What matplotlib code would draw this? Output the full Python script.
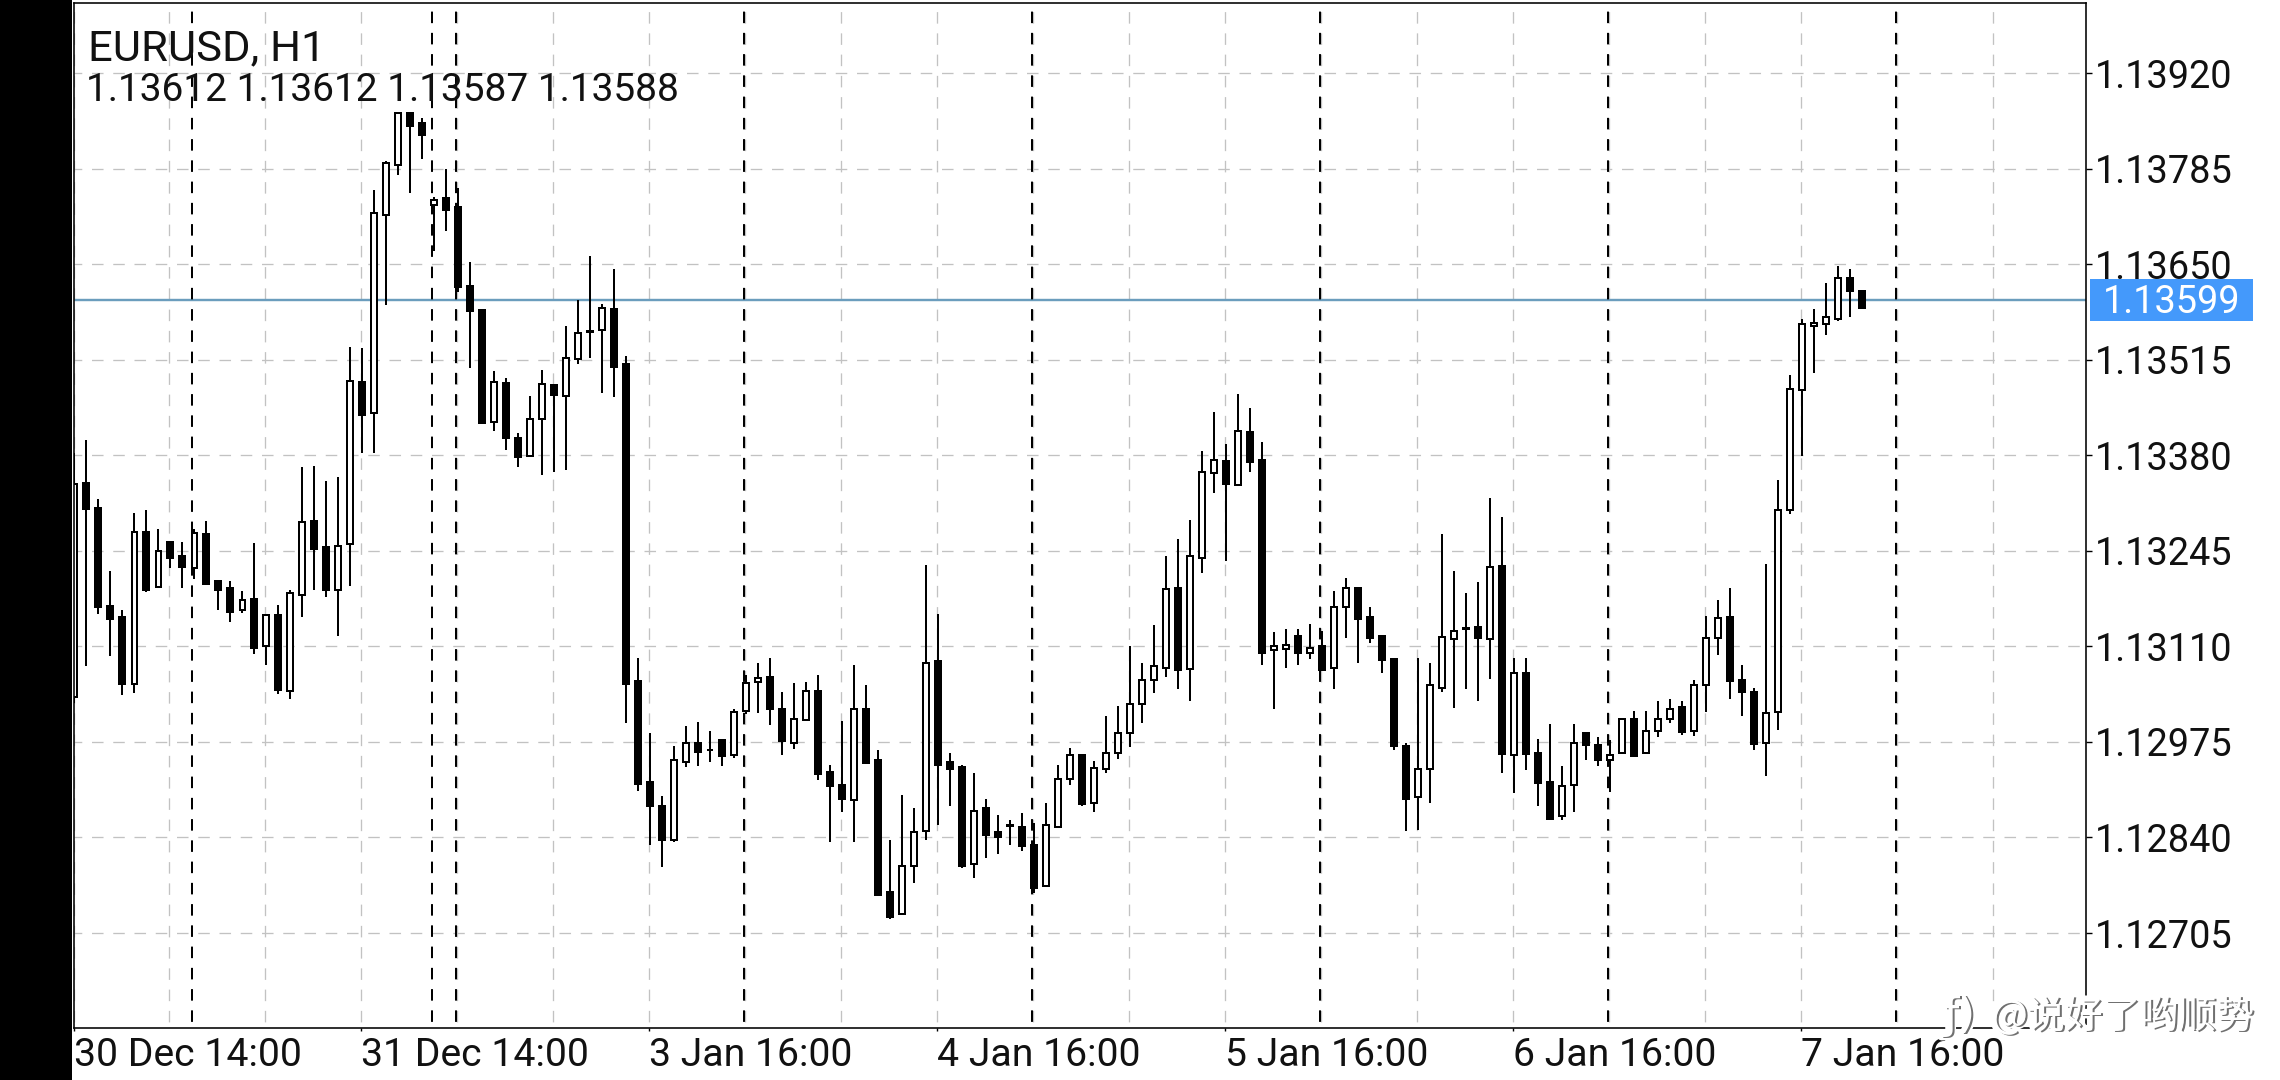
import matplotlib
matplotlib.use("Agg")
import matplotlib.pyplot as plt
from matplotlib.patches import Rectangle
import matplotlib.patheffects as pe

W, H = 2280, 1080
plt.rcParams['font.family'] = ['Roboto', 'DejaVu Sans']
plt.rcParams['lines.scale_dashes'] = False

symbol = "EURUSD, H1"
ohlc_text = "1.13612 1.13612 1.13587 1.13588"
current_price = 1.13599
watermark = "@说好了哟顺势"

opens = [
1.13038,1.13341,1.13306,1.13167,1.13152,1.13057,1.13271,1.13194,1.13258,1.13237,
1.13221,1.13269,1.13202,1.13193,1.13161,1.13177,1.13110,1.13154,1.13047,1.13182,
1.13287,1.13250,1.13189,1.13254,1.13484,1.13439,1.13719,1.13790,1.13863,1.13849,
1.13733,1.13743,1.13731,1.13619,1.13585,1.13427,1.13482,1.13404,1.13379,1.13431,
1.13479,1.13464,1.13516,1.13554,1.13557,1.13586,1.13509,1.13061,1.12918,1.12885,
1.12837,1.12947,1.12973,1.12963,1.12978,1.12957,1.13019,1.13059,1.13067,1.13021,
1.12974,1.13006,1.13047,1.12933,1.12914,1.12893,1.13021,1.12949,1.12763,1.12732,
1.12800,1.12849,1.13089,1.12947,1.12939,1.12802,1.12882,1.12847,1.12856,1.12855,
1.12829,1.12772,1.12855,1.12922,1.12957,1.12889,1.12937,1.12960,1.12988,1.13029,
1.13062,1.13079,1.13192,1.13078,1.13235,1.13355,1.13372,1.13338,1.13413,1.13373,
1.13105,1.13106,1.13125,1.13101,1.13110,1.13079,1.13165,1.13192,1.13152,1.13125,
1.13092,1.12969,1.12897,1.12937,1.13051,1.13121,1.13135,1.13137,1.13121,1.13224,
1.12957,1.13073,1.12959,1.12918,1.12870,1.12914,1.12987,1.12971,1.12949,1.12959,
1.13008,1.12959,1.12990,1.13008,1.13024,1.12990,1.13055,1.13122,1.13152,1.13062,
1.13046,1.12973,1.13017,1.13303,1.13472,1.13562,1.13565,1.13573,1.13630,1.13612]
highs = [
1.13383,1.13402,1.13318,1.13216,1.13162,1.13298,1.13302,1.13276,1.13259,1.13258,
1.13276,1.13287,1.13204,1.13202,1.13188,1.13256,1.13154,1.13169,1.13189,1.13363,
1.13365,1.13344,1.13349,1.13533,1.13531,1.13755,1.13796,1.13864,1.13863,1.13857,
1.13745,1.13785,1.13757,1.13653,1.13585,1.13499,1.13489,1.13411,1.13463,1.13500,
1.13479,1.13562,1.13599,1.13662,1.13594,1.13643,1.13520,1.13093,1.12987,1.12898,
1.12969,1.12997,1.13003,1.12991,1.12978,1.13022,1.13069,1.13087,1.13093,1.13045,
1.13058,1.13059,1.13070,1.12943,1.13004,1.13083,1.13056,1.12963,1.12836,1.12900,
1.12881,1.13225,1.13156,1.12959,1.12942,1.12931,1.12895,1.12872,1.12864,1.12874,
1.12861,1.12888,1.12942,1.12966,1.12957,1.12948,1.13012,1.13026,1.13111,1.13086,
1.13140,1.13237,1.13261,1.13289,1.13386,1.13441,1.13396,1.13466,1.13447,1.13399,
1.13130,1.13135,1.13135,1.13142,1.13132,1.13188,1.13207,1.13192,1.13165,1.13125,
1.13092,1.12974,1.13094,1.13086,1.13269,1.13216,1.13185,1.13201,1.13319,1.13293,
1.13093,1.13094,1.12979,1.13000,1.12941,1.13000,1.12987,1.12982,1.12978,1.13007,
1.13018,1.13018,1.13033,1.13035,1.13033,1.13062,1.13153,1.13176,1.13193,1.13083,
1.13051,1.13227,1.13345,1.13494,1.13572,1.13586,1.13623,1.13648,1.13643,1.13612]
lows = [
1.13030,1.13082,1.13156,1.13097,1.13041,1.13044,1.13187,1.13194,1.13221,1.13193,
1.13205,1.13198,1.13162,1.13145,1.13157,1.13099,1.13083,1.13043,1.13036,1.13152,
1.13189,1.13180,1.13124,1.13195,1.13383,1.13383,1.13592,1.13776,1.13750,1.13799,
1.13668,1.13697,1.13611,1.13503,1.13426,1.13414,1.13388,1.13363,1.13379,1.13352,
1.13356,1.13359,1.13509,1.13518,1.13468,1.13462,1.13002,1.12905,1.12830,1.12798,
1.12834,1.12939,1.12941,1.12947,1.12941,1.12952,1.13015,1.13016,1.12999,1.12957,
1.12965,1.13006,1.12921,1.12834,1.12876,1.12834,1.12945,1.12759,1.12725,1.12732,
1.12776,1.12837,1.12858,1.12885,1.12797,1.12782,1.12811,1.12816,1.12829,1.12821,
1.12761,1.12772,1.12854,1.12914,1.12885,1.12876,1.12931,1.12951,1.12968,1.13002,
1.13044,1.13066,1.13050,1.13033,1.13213,1.13326,1.13230,1.13337,1.13357,1.13083,
1.13022,1.13080,1.13083,1.13092,1.13077,1.13050,1.13122,1.13087,1.13115,1.13073,
1.12963,1.12849,1.12850,1.12888,1.13046,1.13023,1.13050,1.13033,1.13064,1.12931,
1.12903,1.12935,1.12884,1.12866,1.12864,1.12876,1.12949,1.12941,1.12904,1.12959,
1.12955,1.12959,1.12982,1.13002,1.12985,1.12984,1.13017,1.13098,1.13036,1.13011,
1.12964,1.12927,1.12992,1.13297,1.13379,1.13496,1.13550,1.13570,1.13575,1.13587]
closes = [
1.13339,1.13304,1.13166,1.13148,1.13057,1.13272,1.13190,1.13244,1.13235,1.13222,
1.13270,1.13198,1.13189,1.13158,1.13175,1.13108,1.13154,1.13048,1.13185,1.13285,
1.13248,1.13189,1.13252,1.13485,1.13437,1.13722,1.13793,1.13864,1.13845,1.13832,
1.13740,1.13727,1.13618,1.13584,1.13426,1.13483,1.13404,1.13377,1.13431,1.13481,
1.13465,1.13518,1.13552,1.13555,1.13588,1.13505,1.13057,1.12916,1.12885,1.12836,
1.12949,1.12973,1.12961,1.12963,1.12955,1.13017,1.13058,1.13065,1.13021,1.12976,
1.13007,1.13047,1.12930,1.12913,1.12894,1.13021,1.12945,1.12759,1.12728,1.12799,
1.12848,1.13087,1.12943,1.12936,1.12799,1.12878,1.12843,1.12840,1.12857,1.12828,
1.12769,1.12857,1.12922,1.12957,1.12887,1.12938,1.12959,1.12987,1.13028,1.13062,
1.13082,1.13191,1.13076,1.13237,1.13357,1.13373,1.13339,1.13414,1.13371,1.13101,
1.13111,1.13112,1.13101,1.13107,1.13077,1.13165,1.13192,1.13149,1.13122,1.13091,
1.12969,1.12894,1.12937,1.13055,1.13123,1.13131,1.13136,1.13122,1.13222,1.12958,
1.13072,1.12958,1.12917,1.12866,1.12912,1.12973,1.12971,1.12949,1.12957,1.13007,
1.12955,1.12991,1.13007,1.13021,1.12989,1.13056,1.13122,1.13150,1.13061,1.13045,
1.12972,1.13016,1.13302,1.13474,1.13565,1.13567,1.13575,1.13630,1.13612,1.13588]

price_ticks = [1.13920, 1.13785, 1.13650, 1.13515, 1.13380, 1.13245, 1.13110, 1.12975, 1.12840, 1.12705]
grid_bars = [-0.06, 7.94, 15.94, 23.94, 31.94, 39.94, 47.94, 55.94, 63.94, 71.94, 79.94,
             87.94, 95.94, 103.94, 111.94, 119.94, 127.94, 135.94, 143.94, 151.94, 159.94]
label_bars = [-0.06, 23.94, 47.94, 71.94, 95.94, 119.94, 143.94]
time_labels = ["30 Dec 14:00", "31 Dec 14:00", "3 Jan 16:00", "4 Jan 16:00",
               "5 Jan 16:00", "6 Jan 16:00", "7 Jan 16:00"]
separator_bars = [9.83, 29.83, 31.83, 55.83, 79.83, 103.83, 127.83, 151.83]

PX = 0.72  # points per pixel at dpi 100
fig = plt.figure(figsize=(W/100, H/100), dpi=100, facecolor='white')
L, R, T, B = 73.5, 2086, 2.5, 1028
ax = fig.add_axes([L/W, 1-B/H, (R-L)/W, (B-T)/H])
ax.set_xlim((L-74)/12, (R-74)/12)
ax.set_ylim(1.1392-(B-73.0)/70782, 1.1392+(73.0-T)/70782)

# left black band
fig.add_artist(Rectangle((0, 0), 71.5/W, 1, transform=fig.transFigure, fc='black', ec='none'))

# grid
grid_ls = (10.9, (8.3, 7.0))
ax.set_axisbelow(True)
ax.xaxis.remove_overlapping_locs = False
ax.set_xticks(grid_bars, minor=True)
ax.set_xticks(label_bars, time_labels, ha='left')
ax.set_yticks(price_ticks, [f"{p:.5f}" for p in price_ticks])
ax.yaxis.tick_right()
ax.xaxis.grid(True, which='minor', color='#c2c2c2', lw=1.3*PX, ls=grid_ls, zorder=1)
ax.yaxis.grid(True, which='major', color='#c2c2c2', lw=1.3*PX, ls=(2.7, (8.3, 7.0)), zorder=1)
ax.xaxis.grid(False, which='major')
ax.tick_params(axis='x', which='minor', length=0)
ax.tick_params(axis='x', which='major', length=3*PX, width=1.4*PX, pad=4.5, labelsize=28.2, labelcolor='#111111')
ax.tick_params(axis='y', which='major', length=6*PX, width=1.4*PX, pad=2, labelsize=27.3, labelcolor='#111111')
for t in ax.get_yticklabels():
    t.set_va('center_baseline')
for s in ax.spines.values():
    s.set_linewidth(1.6*PX)
    s.set_color('black')
    s.set_zorder(6)

# current price line
ax.axhline(current_price, color='#6b9dbd', lw=2.4*PX, zorder=2)

# period separators
for b in separator_bars:
    ax.plot([b, b], [0, 1], transform=ax.get_xaxis_transform(), color='black',
            lw=2*PX, ls=grid_ls, zorder=3, dash_capstyle='butt')

# candles
xs = list(range(len(opens)))
ax.vlines(xs, lows, highs, color='black', lw=2*PX, zorder=4)
up_x = [x for x in xs if closes[x] > opens[x]]
dn_x = [x for x in xs if closes[x] <= opens[x]]
ax.bar(up_x, [closes[x]-opens[x] for x in up_x], bottom=[opens[x] for x in up_x], width=5.4/12,
       fc='white', ec='black', lw=2*PX, zorder=5)
ax.bar(dn_x, [opens[x]-closes[x] for x in dn_x], bottom=[closes[x] for x in dn_x], width=6/12,
       fc='black', ec='black', lw=2*PX, zorder=5)

# header
def px(x, y):
    return x/W, 1-y/H
fig.text(*px(88, 60), symbol, fontsize=31.3, color='#111111', ha='left', va='baseline', zorder=10)
fig.text(*px(86, 101), ohlc_text, fontsize=28, color='#111111', ha='left', va='baseline', zorder=10)

# current price tag
fig.add_artist(Rectangle(px(2090, 320.7), 162.7/W, 41.7/H, transform=fig.transFigure,
                         fc='#4499fb', ec='none', zorder=8))
fig.text(*px(2103, 313), f"{current_price:.5f}", fontsize=27.3, color='white', ha='left', va='baseline', zorder=9)

# watermark
cjk = ['Noto Sans CJK SC', 'DejaVu Sans']
for txt, x0, fam, fs in [(watermark, 1992, cjk, 27.3), ("ƒ)", 1944, ['DejaVu Sans'], 31.0)]:
    fig.text(*px(x0, 1028), txt, family=fam, fontsize=fs, color='white', ha='left', va='baseline', zorder=11,
             path_effects=[pe.withStroke(linewidth=5, foreground='white')])
    fig.text(*px(x0+1.5, 1029.5), txt, family=fam, fontsize=fs, color='#707070', ha='left', va='baseline', zorder=12)
    fig.text(*px(x0, 1028), txt, family=fam, fontsize=fs, color='white', ha='left', va='baseline', zorder=13)

fig.savefig("out.png", dpi=100)
